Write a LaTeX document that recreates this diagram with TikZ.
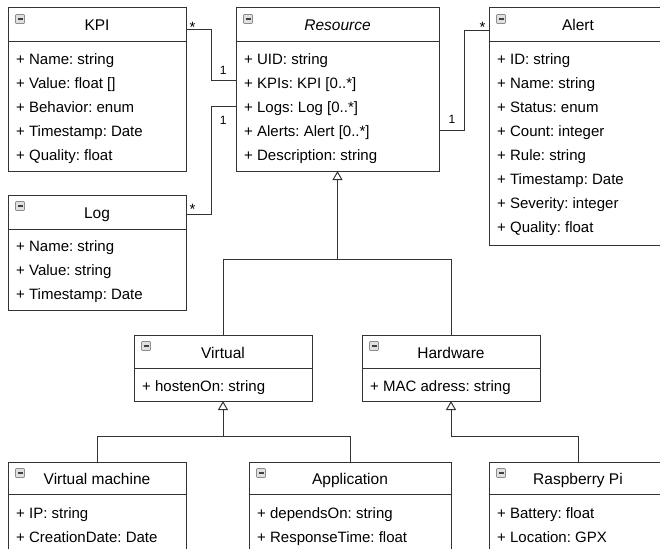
\documentclass[tikz,border=0pt]{standalone}
\usepackage{fontspec}
\setmainfont{Liberation Sans}
\usepackage{tikz}
\usetikzlibrary{positioning,arrows.meta,calc}
\frenchspacing

\tikzset{
  classbox/.style={draw=black!80, line width=1pt, fill=white, anchor=north west,
    inner sep=0pt, outer sep=0pt, minimum width=178pt, minimum height=#1},
  sepline/.style={draw=black!80, line width=1pt},
  classname/.style={font=\fontsize{15.5}{18}\selectfont, anchor=base, inner sep=0pt},
  attr/.style={font=\fontsize{15}{18}\selectfont, anchor=base west, inner sep=0pt},
  icon/.style={draw=black!45, fill=black!12, minimum size=9pt, inner sep=0pt, outer sep=0pt,
    line width=0.6pt, rounded corners=0.8pt,
    path picture={\draw[black!75, line width=1.6pt]
      ([xshift=2pt]path picture bounding box.west) -- ([xshift=-2pt]path picture bounding box.east);}},
  link/.style={draw=black!80, line width=1pt},
  inherit/.style={link, -{Triangle[open, length=9pt, width=10pt]}},
  mult/.style={font=\fontsize{12}{14}\selectfont, inner sep=0pt},
  star/.style={font=\fontsize{15}{18}\selectfont, inner sep=0pt}
}

\begin{document}
\begin{tikzpicture}[x=1pt, y=-1pt]
    \useasboundingbox (0,0) rectangle (660,548);
    \clip (0,0) rectangle (660,548);

    % KPI
    \node[classbox=163] (kpi) at (8,8) {};
    \draw[sepline] ($(kpi.north west)+(0,34)$) -- ($(kpi.north east)+(0,34)$);
    \node[icon] (kpi-ic) at ($(kpi.north west)+(12,11)$) {};
    \node[classname] (kpi-name) at ($(kpi.north)+(0,23)$) {KPI};
    \foreach \a [count=\i] in {{Name: string}, {Value: float []}, {Behavior: enum}, {Timestamp: Date}, {Quality: float}}
        \node[attr] (kpi-\i) at ($(kpi.north west)+(8,32.5+24*\i)$) {+ \a};

    % Resource
    \node[classbox=163, minimum width=203pt] (res) at (236,8) {};
    \draw[sepline] ($(res.north west)+(0,34)$) -- ($(res.north east)+(0,34)$);
    \node[icon] (res-ic) at ($(res.north west)+(12,11)$) {};
    \node[classname, font=\fontsize{15.5}{18}\selectfont\itshape] (res-name) at ($(res.north)+(0,23)$) {Resource};
    \foreach \a [count=\i] in {{UID: string}, {KPIs: KPI [0..*]}, {Logs: Log [0..*]}, {Alerts: Alert [0..*]}, {Description: string}}
        \node[attr] (res-\i) at ($(res.north west)+(8,32.5+24*\i)$) {+ \a};

    % Alert
    \node[classbox=237] (alert) at (489,8) {};
    \draw[sepline] ($(alert.north west)+(0,34)$) -- ($(alert.north east)+(0,34)$);
    \node[icon] (alert-ic) at ($(alert.north west)+(12,11)$) {};
    \node[classname] (alert-name) at ($(alert.north)+(0,23)$) {Alert};
    \foreach \a [count=\i] in {{ID: string}, {Name: string}, {Status: enum}, {Count: integer}, {Rule: string}, {Timestamp: Date}, {Severity: integer}, {Quality: float}}
        \node[attr] (alert-\i) at ($(alert.north west)+(8,32.5+24*\i)$) {+ \a};

    % Log
    \node[classbox=115] (log) at (8,195) {};
    \draw[sepline] ($(log.north west)+(0,34)$) -- ($(log.north east)+(0,34)$);
    \node[icon] (log-ic) at ($(log.north west)+(12,11)$) {};
    \node[classname] (log-name) at ($(log.north)+(0,23)$) {Log};
    \foreach \a [count=\i] in {{Name: string}, {Value: string}, {Timestamp: Date}}
        \node[attr] (log-\i) at ($(log.north west)+(8,32.5+24*\i)$) {+ \a};

    % Virtual
    \node[classbox=66] (virt) at (134,335) {};
    \draw[sepline] ($(virt.north west)+(0,33)$) -- ($(virt.north east)+(0,33)$);
    \node[icon] (virt-ic) at ($(virt.north west)+(12,11)$) {};
    \node[classname] (virt-name) at ($(virt.north)+(0,23)$) {Virtual};
    \node[attr] (virt-1) at ($(virt.north west)+(8,56)$) {+ hostenOn: string};

    % Hardware
    \node[classbox=66] (hw) at (362,335) {};
    \draw[sepline] ($(hw.north west)+(0,33)$) -- ($(hw.north east)+(0,33)$);
    \node[icon] (hw-ic) at ($(hw.north west)+(12,11)$) {};
    \node[classname] (hw-name) at ($(hw.north)+(0,23)$) {Hardware};
    \node[attr] (hw-1) at ($(hw.north west)+(8,56)$) {+ MAC adress: string};

    % Virtual machine
    \node[classbox=91] (vm) at (8,462) {};
    \draw[sepline] ($(vm.north west)+(0,32)$) -- ($(vm.north east)+(0,32)$);
    \node[icon] (vm-ic) at ($(vm.north west)+(12,11)$) {};
    \node[classname] (vm-name) at ($(vm.north)+(0,22)$) {Virtual machine};
    \foreach \a [count=\i] in {{IP: string}, {CreationDate: Date}}
        \node[attr] (vm-\i) at ($(vm.north west)+(8,32+24*\i)$) {+ \a};

    % Application
    \node[classbox=91, minimum width=202pt] (app) at (249,462) {};
    \draw[sepline] ($(app.north west)+(0,32)$) -- ($(app.north east)+(0,32)$);
    \node[icon] (app-ic) at ($(app.north west)+(12,11)$) {};
    \node[classname] (app-name) at ($(app.north)+(0,22)$) {Application};
    \foreach \a [count=\i] in {{dependsOn: string}, {ResponseTime: float}}
        \node[attr] (app-\i) at ($(app.north west)+(8,32+24*\i)$) {+ \a};

    % Raspberry Pi
    \node[classbox=91] (rpi) at (489,462) {};
    \draw[sepline] ($(rpi.north west)+(0,32)$) -- ($(rpi.north east)+(0,32)$);
    \node[icon] (rpi-ic) at ($(rpi.north west)+(12,11)$) {};
    \node[classname] (rpi-name) at ($(rpi.north)+(0,22)$) {Raspberry Pi};
    \foreach \a [count=\i] in {{Battery: float}, {Location: GPX}}
        \node[attr] (rpi-\i) at ($(rpi.north west)+(8,32+24*\i)$) {+ \a};

    % Associations
    \draw[link] ($(kpi.north east)+(0,22)$) node[star, anchor=base west, xshift=3, yshift=-3] (m-kpi) {*}
        -- ++(25,0) |- ($(res.north west)+(0,73)$) node[mult, anchor=base east, xshift=-9, yshift=6] (m-res-kpi) {1};
    \draw[link] ($(res.north west)+(0,99)$) node[mult, anchor=base east, xshift=-9, yshift=-18] (m-res-log) {1}
        -- ++(-25,0) |- ($(log.north east)+(0,19)$) node[star, anchor=base west, xshift=3, yshift=0] (m-log) {*};
    \draw[link] ($(res.north east)+(0,123)$) node[mult, anchor=base west, xshift=9, yshift=7] (m-res-alert) {1}
        -- ++(25,0) |- ($(alert.north west)+(0,23)$) node[star, anchor=base east, xshift=-3, yshift=-2] (m-alert) {*};

    % Generalisations
    \coordinate (j1) at ($(res.south)+(0,88)$);
    \coordinate (j2) at ($(virt.south)+(0,35)$);
    \coordinate (j3) at ($(hw.south)+(0,35)$);
    \draw[link] (hw.north) |- (j1);
    \draw[inherit] (virt.north) |- (j1) -- (res.south);
    \draw[link] (app.north) |- (j2);
    \draw[inherit] (vm.north) |- (j2) -- (virt.south);
    \draw[inherit] (rpi.north) |- (j3) -- (hw.south);
\end{tikzpicture}
\end{document}
